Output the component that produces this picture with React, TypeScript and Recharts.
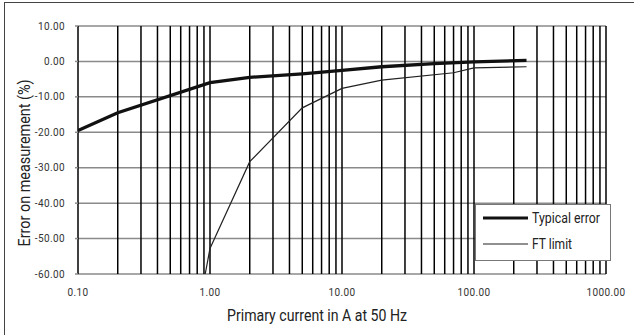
import React from "react";
import {
  CartesianGrid,
  Legend,
  Line,
  LineChart,
  ReferenceLine,
  XAxis,
  YAxis,
} from "recharts";

// Typical error curve (current in A, error in %)
const typicalCurrent = [0.1, 0.2, 1, 2, 5, 10, 20, 50, 100, 250];
const typicalError = [-19.5, -14.5, -6.0, -4.5, -3.5, -2.5, -1.5, -0.6, -0.1, 0.3];

// FT limit curve
const ftCurrent = [0.92, 1, 2, 5, 10, 20, 70, 100, 250];
const ftLimit = [-60, -52.8, -28.3, -13.1, -7.6, -5.3, -3.2, -1.8, -1.5];

const xTicks = [0.1, 1, 10, 100, 1000];
const yTicks = [-60, -50, -40, -30, -20, -10, 0, 10];
const logGrid = [
  0.1, 0.2, 0.3, 0.4, 0.5, 0.6, 0.7, 0.8, 0.9,
  1, 2, 3, 4, 5, 6, 7, 8, 9,
  10, 20, 30, 40, 50, 60, 70, 80, 90,
  100, 200, 300, 400, 500, 600, 700, 800, 900,
  1000,
];

const typicalData = typicalCurrent.map((x, i) => ({ x, y: typicalError[i] }));
const ftData = ftCurrent.map((x, i) => ({ x, y: ftLimit[i] }));

const tickFont = { fontFamily: "Roboto", fontSize: 10, fill: "#333", letterSpacing: 0.4 };

function LegendBox() {
  return (
    <svg width={136} height={57} style={{ display: "block" }}>
      <line x1={7} x2={52} y1={13} y2={13} stroke="#111" strokeWidth={2.8} />
      <text x={56} y={18} fontFamily="Roboto" fontSize={14} fill="#222" textLength={68} lengthAdjust="spacingAndGlyphs">
        Typical error
      </text>
      <line x1={7} x2={52} y1={39} y2={39} stroke="#222" strokeWidth={1.1} />
      <text x={56} y={44} fontFamily="Roboto" fontSize={14} fill="#222" textLength={40} lengthAdjust="spacingAndGlyphs">
        FT limit
      </text>
    </svg>
  );
}

export default function App() {
  return (
    <div style={{ position: "absolute", left: 0, top: 0, width: 634, height: 335, background: "#fff" }}>
      <div
        style={{
          position: "absolute",
          left: 4,
          top: 2,
          right: 0,
          bottom: 0,
          borderTop: "1px solid #444",
          borderLeft: "1px solid #444",
        }}
      />
      <LineChart width={634} height={335} margin={{ top: 26, right: 28, bottom: 0, left: 0 }}>
        <CartesianGrid vertical={false} stroke="#8a8a8a" strokeWidth={1.5} />
        <XAxis
          dataKey="x"
          type="number"
          scale="log"
          domain={[0.1, 1000]}
          ticks={xTicks}
          allowDataOverflow
          height={61}
          axisLine={false}
          tickLine={false}
          tickSize={0}
          tickMargin={15}
          tick={tickFont}
          tickFormatter={(v: number) => v.toFixed(2)}
          label={{
            content: ({ viewBox }: any) => (
              <text
                x={viewBox.x + viewBox.width / 2 - 25}
                y={321}
                textAnchor="middle"
                fontFamily="Roboto"
                fontSize={16.5}
                fill="#222"
                textLength={180}
                lengthAdjust="spacingAndGlyphs"
              >
                Primary current in A at 50 Hz
              </text>
            ),
          }}
        />
        <YAxis
          type="number"
          domain={[-60, 10]}
          ticks={yTicks}
          width={78}
          axisLine={false}
          tickLine={{ stroke: "#8a8a8a", strokeWidth: 1.5 }}
          tickSize={3}
          tickMargin={10}
          tick={tickFont}
          tickFormatter={(v: number) => v.toFixed(2)}
          label={{
            content: () => (
              <text
                x={30}
                y={163}
                transform="rotate(-90 30 163)"
                textAnchor="middle"
                fontFamily="Roboto"
                fontSize={16.5}
                fill="#222"
                textLength={167}
                lengthAdjust="spacingAndGlyphs"
              >
                Error on measurement (%)
              </text>
            ),
          }}
        />
        {logGrid.map((v) => (
          <ReferenceLine key={v} x={v} stroke="#000" strokeWidth={1.5} />
        ))}
        <Line
          data={typicalData}
          dataKey="y"
          name="Typical error"
          type="linear"
          stroke="#111"
          strokeWidth={3.3}
          dot={false}
          isAnimationActive={false}
        />
        <Line
          data={ftData}
          dataKey="y"
          name="FT limit"
          type="linear"
          stroke="#222"
          strokeWidth={1.2}
          dot={false}
          isAnimationActive={false}
        />
        <Legend
          layout="vertical"
          align="center"
          verticalAlign="middle"
          content={() => <LegendBox />}
          wrapperStyle={{
            left: 475,
            top: 204,
            width: 136,
            height: 57,
            border: "1px solid #777",
            background: "#fff",
            boxSizing: "border-box",
          }}
        />
      </LineChart>
    </div>
  );
}
